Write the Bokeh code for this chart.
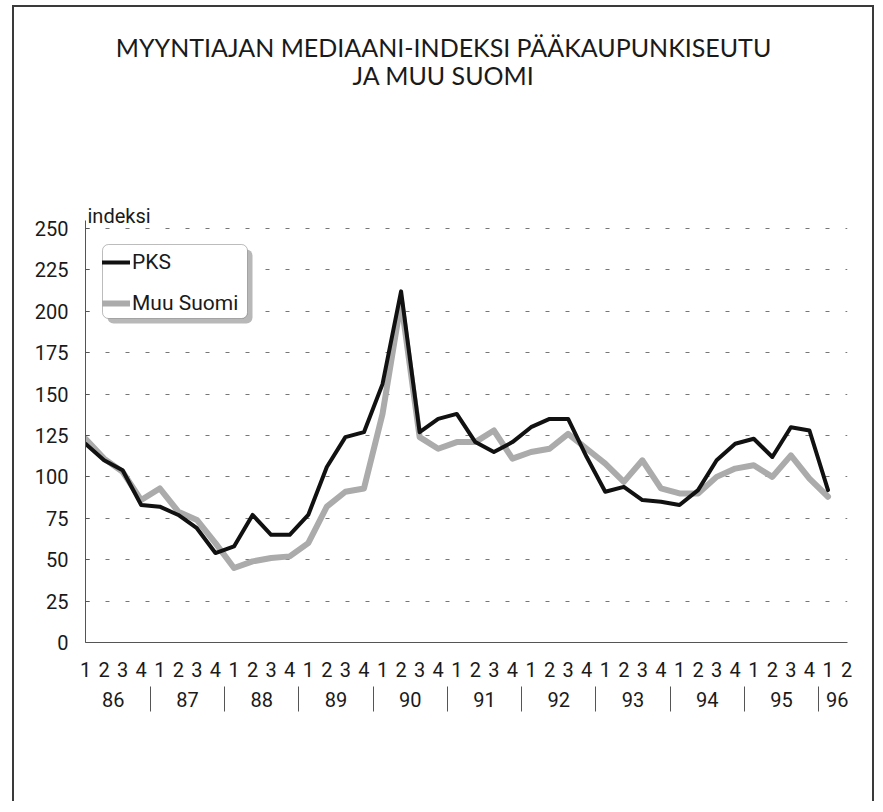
from bokeh.plotting import figure
from bokeh.models import (Range1d, FixedTicker, LinearAxis, Legend, LegendItem,
                          Label, BoxAnnotation, ColumnDataSource)
from bokeh.embed import file_html
from bokeh.resources import INLINE

# ---- data (quarterly, index 0 = 1986 Q1 ... 40 = 1996 Q1) ----
quarter_index = list(range(41))
pks = [120, 110, 104, 83, 82, 77, 69, 54, 58, 77, 65, 65, 77, 106, 124, 127,
       156, 212, 127, 135, 138, 121, 115, 121, 130, 135, 135, 112, 91, 94,
       86, 85, 83, 92, 110, 120, 123, 112, 130, 128, 92]
muu_suomi = [123, 111, 103, 86, 93, 79, 74, 60, 45, 49, 51, 52, 60, 82, 91, 93,
             138, 206, 124, 117, 121, 121, 128, 111, 115, 117, 126, 117, 108, 97,
             110, 93, 90, 90, 100, 105, 107, 100, 113, 99, 88]
quarter_labels = ["1", "2", "3", "4"] * 10 + ["1", "2"]
year_labels = ["86", "87", "88", "89", "90", "91", "92", "93", "94", "95", "96"]
y_ticks = [0, 25, 50, 75, 100, 125, 150, 175, 200, 225, 250]
series_names = ["PKS", "Muu Suomi"]
title_lines = ["MYYNTIAJAN MEDIAANI-INDEKSI PÄÄKAUPUNKISEUTU", "JA MUU SUOMI"]
y_unit_label = "indeksi"

TXT_FONT = "Roboto"
TITLE_FONT = "Lato"
AX = "#555555"
INK = "#1a1a1a"

# plot frame reaches the top of the canvas so the title can sit inside it;
# the value axis itself is bounded to 0..255
p = figure(width=862, height=796, output_backend="svg", toolbar_location=None,
           x_range=Range1d(0, 41.05), y_range=Range1d(0, 383.4),
           min_border_left=71, min_border_right=29, min_border_top=0,
           min_border_bottom=161, background_fill_color="white",
           border_fill_color="white", outline_line_color=None)
p.margin = (5, 0, 0, 12)
p.styles = {"border-left": "2px solid #3a3a3a", "border-right": "2px solid #3a3a3a",
            "border-top": "2px solid #3a3a3a"}

# quarter axis
n_q = len(quarter_labels)
p.xaxis.ticker = FixedTicker(ticks=list(range(n_q)))
p.xaxis.major_label_overrides = {i: lab for i, lab in enumerate(quarter_labels)}
p.xaxis.major_tick_line_color = None
p.xaxis.major_tick_out = 0
p.xaxis.major_tick_in = 0
p.xaxis.minor_tick_line_color = None
p.xaxis.minor_tick_out = 0
p.xaxis.minor_tick_in = 0
p.xaxis.major_label_standoff = 19
p.xaxis.axis_line_color = AX
p.xaxis.axis_line_width = 1

# year axis (labels centred under each year's quarters, separators between years)
year_centres = []
separators = []
for k in range(len(year_labels)):
    qs = [i for i in range(n_q) if i // 4 == k]
    year_centres.append(sum(qs) / len(qs))
    if k > 0:
        separators.append(qs[0] - 0.5)
year_axis = LinearAxis(ticker=FixedTicker(ticks=year_centres, minor_ticks=separators),
                       major_label_overrides={c: y for c, y in zip(year_centres, year_labels)},
                       axis_line_color=None, major_tick_line_color=None,
                       major_tick_in=0, major_tick_out=0,
                       minor_tick_line_color=AX, minor_tick_line_width=1,
                       minor_tick_in=-7, minor_tick_out=32,
                       major_label_standoff=-20)
p.add_layout(year_axis, "below")

# y axis
p.yaxis.ticker = FixedTicker(ticks=y_ticks)
p.yaxis.bounds = (0, 255)
p.yaxis.major_tick_in = 4
p.yaxis.major_tick_out = 0
p.yaxis.major_tick_line_color = AX
p.yaxis.minor_tick_line_color = None
p.yaxis.major_label_standoff = 17
p.yaxis.axis_line_color = AX

for ax in [p.xaxis[0], year_axis, p.yaxis[0]]:
    ax.major_label_text_font = TXT_FONT
    ax.major_label_text_font_size = "20px"
    ax.major_label_text_color = INK

p.xgrid.visible = False
p.ygrid.grid_line_color = "#777777"
p.ygrid.grid_line_dash = "4 16"
p.ygrid.grid_line_width = 1

src = ColumnDataSource(dict(q=quarter_index, pks=pks, muu=muu_suomi))
r_muu = p.line("q", "muu", source=src, line_color="#ababab", line_width=6,
               line_join="round", line_cap="round")
r_pks = p.line("q", "pks", source=src, line_color="#111111", line_width=4,
               line_join="round", line_cap="round")

# legend shadow and box
p.add_layout(BoxAnnotation(left=22, right=167, top=393, bottom=319,
                           left_units="screen", right_units="screen",
                           top_units="screen", bottom_units="screen",
                           fill_color="#b8b8b8", fill_alpha=1, line_color=None,
                           border_radius=6))
p.add_layout(BoxAnnotation(left=17, right=162, top=398, bottom=324,
                           left_units="screen", right_units="screen",
                           top_units="screen", bottom_units="screen",
                           fill_color="white", fill_alpha=1, line_color="#222222",
                           line_width=1, border_radius=6))

legend = Legend(items=[LegendItem(label=series_names[0], renderers=[r_pks]),
                       LegendItem(label=series_names[1], renderers=[r_muu])],
                location=(17, 327), padding=5, spacing=17, margin=0,
                glyph_height=20, glyph_width=28, label_height=20,
                label_standoff=2, border_line_color=None,
                background_fill_alpha=0,
                label_text_font=TXT_FONT, label_text_font_size="21px",
                label_text_color=INK)
p.add_layout(legend)

# title lines and unit label (screen offsets from the frame's bottom-left)
for text, sy in zip(title_lines, [596, 568]):
    p.add_layout(Label(x=358, y=sy, x_units="screen", y_units="screen",
                       text=text, text_align="center", text_baseline="middle",
                       text_font=TITLE_FONT, text_font_size="25px", text_color=INK))
p.add_layout(Label(x=2, y=427, x_units="screen", y_units="screen",
                   text=y_unit_label, text_align="left", text_baseline="alphabetic",
                   text_font=TXT_FONT, text_font_size="20px", text_color=INK))

open("out.html", "w").write(file_html(p, INLINE))
